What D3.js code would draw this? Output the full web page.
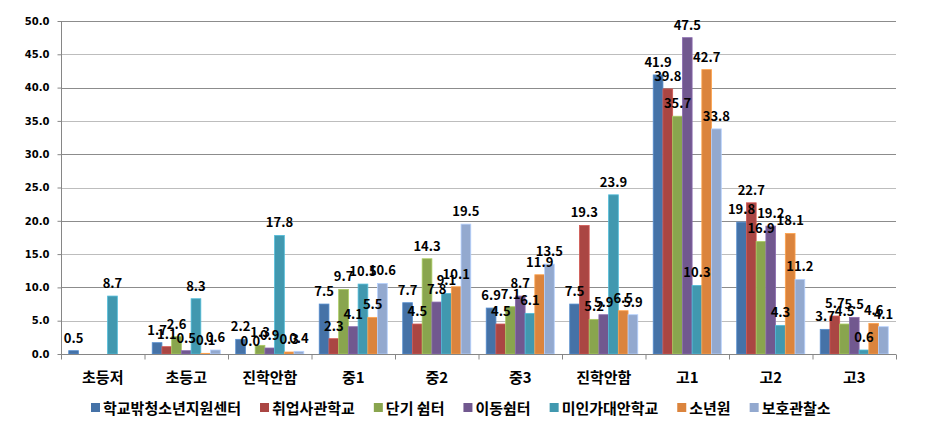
<!DOCTYPE html>
<html>
<head>
<meta charset="utf-8">
<script src="https://cdn.jsdelivr.net/npm/d3@7/dist/d3.min.js"></script>
<style>
  body { margin: 0; background: #fff; }
  svg { display: block; }
</style>
</head>
<body>
<svg id="chart" width="936" height="431"></svg>
<script>
const categories = ["초등저", "초등고", "진학안함", "중1", "중2", "중3", "진학안함", "고1", "고2", "고3"];
const seriesNames = ["학교밖청소년지원센터", "취업사관학교", "단기 쉼터", "이동쉼터", "미인가대안학교", "소년원", "보호관찰소"];
const s1 = [0.5, 1.7, 2.2, 7.5, 7.7, 6.9, 7.5, 41.9, 19.8, 3.7];
const s2 = [null, 1.1, 0.0, 2.3, 4.5, 4.5, 19.3, 39.8, 22.7, 5.7];
const s3 = [null, 2.6, 1.3, 9.7, 14.3, 7.1, 5.2, 35.7, 16.9, 4.5];
const s4 = [null, 0.5, 0.9, 4.1, 7.8, 8.7, 5.9, 47.5, 19.2, 5.5];
const s5 = [8.7, 8.3, 17.8, 10.5, 9.1, 6.1, 23.9, 10.3, 4.3, 0.6];
const s6 = [null, 0.1, 0.3, 5.5, 10.1, 11.9, 6.5, 42.7, 18.1, 4.6];
const s7 = [null, 0.6, 0.4, 10.6, 19.5, 13.5, 5.9, 33.8, 11.2, 4.1];
const yTicks = [0, 5, 10, 15, 20, 25, 30, 35, 40, 45, 50];
const colors = ["#4572A7", "#AA4643", "#89A54E", "#71588F", "#4198AF", "#DB843D", "#93A9CF"];

const seriesValues = [s1, s2, s3, s4, s5, s6, s7];

const svg = d3.select("#chart");
const pLeft = 61, pRight = 896, pTop = 21, pBottom = 354;

const x0 = d3.scaleBand().domain(d3.range(categories.length)).range([pLeft, pRight]).padding(0);
const groupW = x0.bandwidth() * 0.815;
const x1 = d3.scaleBand().domain(d3.range(seriesNames.length))
  .range([(x0.bandwidth() - groupW) / 2, (x0.bandwidth() + groupW) / 2]).padding(0);
const y = d3.scaleLinear().domain([0, 50]).range([pBottom, pTop]);

// gridlines
svg.append("g").selectAll("line").data(yTicks.filter(d => d > 0)).join("line")
  .attr("x1", pLeft).attr("x2", pRight)
  .attr("y1", d => Math.round(y(d)) + 0.5).attr("y2", d => Math.round(y(d)) + 0.5)
  .attr("stroke", d => d % 10 === 0 ? "#8c8c8c" : "#bdbdbd")
  .attr("stroke-width", 1.2);

// y axis
const yAxis = d3.axisLeft(y).tickValues(yTicks).tickFormat(d3.format(".1f")).tickSize(4).tickPadding(8);
const gy = svg.append("g").attr("transform", `translate(${pLeft + 0.5},0)`).call(yAxis);
gy.select(".domain").attr("stroke", "#868686").attr("d", `M0,${pTop}V${pBottom}`);
gy.selectAll(".tick line").attr("stroke", "#868686");
gy.selectAll(".tick text").attr("font-family", "DejaVu Sans, sans-serif").attr("font-weight", "bold")
  .attr("font-size", 10).attr("fill", "#000");

// bars
const bars = [];
seriesValues.forEach((vals, si) => {
  vals.forEach((v, ci) => { if (v !== null) bars.push({ si, ci, v }); });
});

svg.append("g").selectAll("rect").data(bars).join("rect")
  .attr("x", d => x0(d.ci) + x1(d.si))
  .attr("width", x1.bandwidth())
  .attr("y", d => y(d.v))
  .attr("height", d => pBottom - y(d.v))
  .attr("fill", d => colors[d.si])
  .attr("stroke", d => d3.color(colors[d.si]).brighter(0.6))
  .attr("stroke-width", 0.8);

// x axis
const gx = svg.append("g").attr("transform", `translate(0,${pBottom + 0.5})`);
gx.append("line").attr("x1", pLeft).attr("x2", pRight).attr("stroke", "#868686").attr("stroke-width", 1.2);
gx.selectAll(".tk").data(d3.range(categories.length + 1)).join("line")
  .attr("class", "tk")
  .attr("x1", i => (i < categories.length ? x0(i) : pRight) + 0.5)
  .attr("x2", i => (i < categories.length ? x0(i) : pRight) + 0.5)
  .attr("y1", 0).attr("y2", 5).attr("stroke", "#868686");
gx.selectAll("text").data(categories).join("text")
  .attr("x", (d, i) => x0(i) + x0.bandwidth() / 2)
  .attr("y", 28)
  .attr("text-anchor", "middle")
  .attr("font-family", "Noto Sans CJK KR, sans-serif")
  .attr("font-weight", "bold").attr("font-size", 15).attr("fill", "#000")
  .text(d => d);

// data labels
svg.append("g").selectAll("text").data(bars).join("text")
  .attr("x", d => x0(d.ci) + x1(d.si) + x1.bandwidth() / 2)
  .attr("y", d => y(d.v) - 8)
  .attr("text-anchor", "middle")
  .attr("font-family", "Noto Sans CJK KR, sans-serif")
  .attr("font-weight", "bold").attr("font-size", 13).attr("fill", "#000")
  .text(d => d3.format(".1f")(d.v));

// legend
const lg = svg.append("g").attr("transform", "translate(91,409)");
let lx = 0;
seriesNames.forEach((name, i) => {
  const g = lg.append("g").attr("transform", `translate(${lx},0)`);
  g.append("rect").attr("x", 0).attr("y", -6).attr("width", 9).attr("height", 9).attr("fill", colors[i]);
  const t = g.append("text").attr("x", 12).attr("y", 5)
    .attr("font-family", "Noto Sans CJK KR, sans-serif")
    .attr("font-weight", "bold").attr("font-size", 15).attr("fill", "#000")
    .text(name);
  lx += 12 + t.node().getComputedTextLength() + 19;
});
</script>
</body>
</html>
